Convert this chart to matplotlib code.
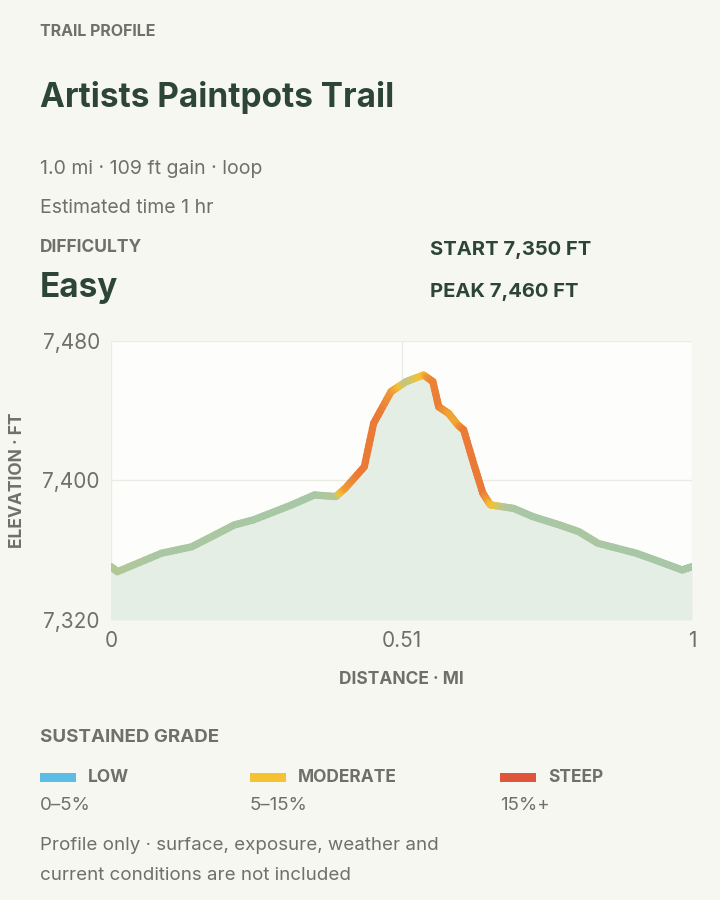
import matplotlib
matplotlib.use("Agg")
import matplotlib.pyplot as plt
import numpy as np
from matplotlib.collections import LineCollection
from matplotlib.colors import LinearSegmentedColormap

plt.rcParams['font.family'] = ['Inter', 'DejaVu Sans']

dist = [0, 0.011, 0.087, 0.139, 0.179, 0.212, 0.245, 0.311, 0.350, 0.387, 0.403, 0.436, 0.452,
        0.482, 0.508, 0.538, 0.554, 0.564, 0.581, 0.597, 0.607, 0.624, 0.640, 0.653, 0.693,
        0.726, 0.772, 0.805, 0.838, 0.904, 0.944, 0.983, 1.0]
elev = [7350.6, 7347.7, 7358.3, 7362, 7368.8, 7374.5, 7377.4, 7386, 7391.7, 7390.8, 7395.5, 7407.9,
        7432.8, 7451, 7456.7, 7460.5, 7456.7, 7442.3, 7438.5, 7431.8, 7429, 7409.9, 7392.7, 7386,
        7384, 7379.3, 7374.5, 7370.7, 7364, 7358.3, 7353.5, 7348.7, 7350.6]
yticks = [7320, 7400, 7480]
ytick_labels = ["7,320", "7,400", "7,480"]
xticks = [0, 0.5, 1]
xtick_labels = ["0", "0.51", "1"]

BG = "#f7f7f2"
DARK = "#2d4536"
GRAY = "#6f706a"

fig = plt.figure(figsize=(7.2, 9), dpi=100, facecolor=BG)

fig.text(40/720, 1-31/900, "TRAIL PROFILE", fontsize=11.5, weight="bold", color=GRAY, va="center")
fig.text(40/720, 1-97/900, "Artists Paintpots Trail", fontsize=24, weight="bold", color=DARK, va="center")
fig.text(40/720, 1-169/900, "1.0 mi · 109 ft gain · loop", fontsize=14, color=GRAY, va="center")
fig.text(40/720, 1-208/900, "Estimated time 1 hr", fontsize=14, color=GRAY, va="center")
fig.text(40/720, 1-248/900, "DIFFICULTY", fontsize=12.5, weight="bold", color=GRAY, va="center")
fig.text(40/720, 1-288/900, "Easy", fontsize=24, weight="bold", color=DARK, va="center")
fig.text(430/720, 1-250/900, "START 7,350 FT", fontsize=14.5, weight="bold", color=DARK, va="center")
fig.text(430/720, 1-292/900, "PEAK 7,460 FT", fontsize=14.5, weight="bold", color=DARK, va="center")

ax = fig.add_axes([111/720, 1-620/900, 581/720, 279/900])
ax.set_facecolor("#fdfdfb")
for s in ax.spines.values():
    s.set_visible(False)
ax.set_xlim(0, 1)
ax.set_ylim(7320, 7480)
ax.set_yticks(yticks)
ax.set_yticklabels(ytick_labels)
ax.set_xticks(xticks)
ax.set_xticklabels(xtick_labels)
ax.tick_params(length=0, labelsize=15, colors=GRAY, pad=8)
ax.grid(True, color="#ebebe6", lw=1)
ax.set_axisbelow(True)

d = np.array(dist); e = np.array(elev)
ax.fill_between(d, e, 7320, color="#e4eee5", lw=0, zorder=1)

# grade per segment, smoothed with neighbours, assigned at vertices
g = np.abs(np.diff(e)) / (np.diff(d) * 5280) * 100
gs = np.convolve(np.pad(g, 1, mode="edge"), [0.25, 0.5, 0.25], mode="valid")
gv = np.concatenate([[gs[0]], (gs[:-1] + gs[1:]) / 2, [gs[-1]]])
cmap = LinearSegmentedColormap.from_list("g", [(0, "#98c6b9"), (0.3, "#b6c794"), (0.45, "#f4c232"),
                                               (0.65, "#ef9a35"), (1, "#ea7a36")])
# subdivide each segment for a smooth colour blend (drawing only)
segs, vals = [], []
n = 8
for i in range(len(d) - 1):
    for k in range(n):
        t0, t1 = k / n, (k + 1) / n
        p0 = (d[i] + (d[i+1]-d[i])*t0, e[i] + (e[i+1]-e[i])*t0)
        p1 = (d[i] + (d[i+1]-d[i])*t1, e[i] + (e[i+1]-e[i])*t1)
        segs.append([p0, p1])
        tm = (t0 + t1) / 2
        vals.append(gv[i] + (gv[i+1]-gv[i])*tm)
lc = LineCollection(segs, cmap=cmap, norm=plt.Normalize(0, 14), linewidths=5.2,
                    capstyle="round", joinstyle="round", zorder=3)
lc.set_array(np.clip(vals, 0, 14))
ax.add_collection(lc)

ax.set_xlabel("DISTANCE · MI", fontsize=12.5, weight="bold", color=GRAY, labelpad=14)
ax.set_ylabel("ELEVATION · FT", fontsize=12.5, weight="bold", color=GRAY, labelpad=12)

fig.text(40/720, 1-738/900, "SUSTAINED GRADE", fontsize=13.5, weight="bold", color=GRAY, va="center")
legend = [("LOW", "0–5%", "#5bbde6", 40), ("MODERATE", "5–15%", "#f5c331", 250), ("STEEP", "15%+", "#e0563c", 500)]
for name, rng, col, x in legend:
    fig.patches.append(plt.Rectangle((x/720, 1-782/900), 36/720, 9/900, transform=fig.transFigure,
                                     color=col, lw=0))
    fig.text((x+48)/720, 1-777/900, name, fontsize=12.5, weight="bold", color=GRAY, va="center")
    fig.text(x/720, 1-806/900, rng, fontsize=13.5, color=GRAY, va="center")

fig.text(40/720, 1-845/900, "Profile only · surface, exposure, weather and", fontsize=13.5, color=GRAY, va="center")
fig.text(40/720, 1-875/900, "current conditions are not included", fontsize=13.5, color=GRAY, va="center")

fig.savefig("out.png", dpi=100, facecolor=BG)
